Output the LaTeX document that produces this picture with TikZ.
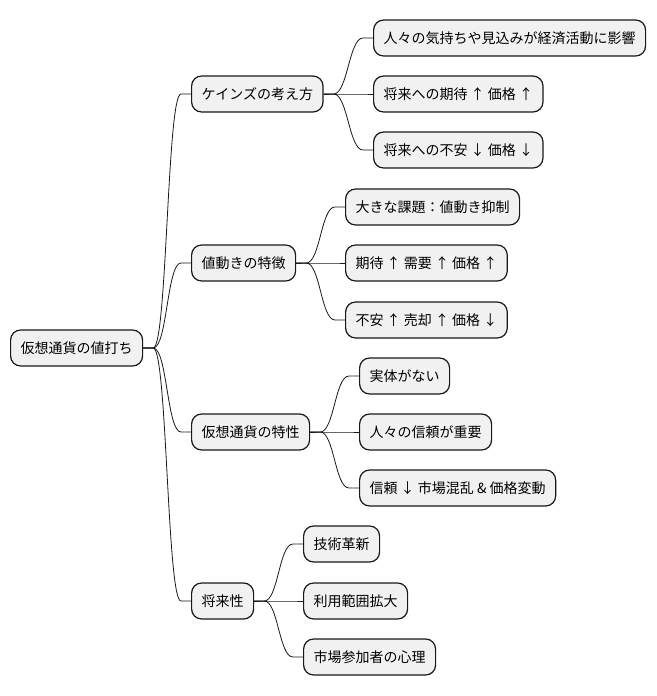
\documentclass[tikz,border=0pt]{standalone}
\usepackage{fontspec}
\setmainfont{Noto Sans CJK JP}
\usepackage{xcolor}
\usepackage{tikz}
\usetikzlibrary{calc}
\definecolor{boxfill}{HTML}{F1F1F1}
\definecolor{boxline}{HTML}{181818}

\begin{document}
\begin{tikzpicture}[x=1pt, y=-1pt,
  topic/.style={draw=boxline, fill=boxfill, line width=1.2pt, rounded corners=10pt,
                anchor=west, minimum height=36pt, inner xsep=10pt, inner ysep=0pt,
                font=\fontsize{14}{16}\selectfont},
  branch/.style={draw=boxline, line width=0.8pt,
                 to path={-- ++(10pt,0) .. controls +(14pt,0) and +(-14pt,0)
                          .. ($(\tikztotarget)+(-10pt,0)$) -- (\tikztotarget)}}]
\useasboundingbox (0,0) rectangle (656,696);
\node[topic] (root)   at (10,348)  {仮想通貨の値打ち};
\node[topic] (keynes) at (191,94)  {ケインズの考え方};
\node[topic] (price)  at (191,263) {値動きの特徴};
\node[topic] (nature) at (191,432) {仮想通貨の特性};
\node[topic] (future) at (191,601) {将来性};
\node[topic] (k1) at (373,38)  {人々の気持ちや見込みが経済活動に影響};
\node[topic] (k2) at (373,94)  {将来への期待 ↑ 価格 ↑};
\node[topic] (k3) at (373,150) {将来への不安 ↓ 価格 ↓};
\node[topic] (p1) at (345,207) {大きな課題：値動き抑制};
\node[topic] (p2) at (345,263) {期待 ↑ 需要 ↑ 価格 ↑};
\node[topic] (p3) at (345,320) {不安 ↑ 売却 ↑ 価格 ↓};
\node[topic] (n1) at (359,376) {実体がない};
\node[topic] (n2) at (359,432) {人々の信頼が重要};
\node[topic] (n3) at (359,488) {信頼 ↓ 市場混乱 \& 価格変動};
\node[topic] (f1) at (303,544) {技術革新};
\node[topic] (f2) at (303,601) {利用範囲拡大};
\node[topic] (f3) at (303,657) {市場参加者の心理};
\foreach \p/\c in {root/keynes,root/price,root/nature,root/future,
                   keynes/k1,keynes/k2,keynes/k3,price/p1,price/p2,price/p3,
                   nature/n1,nature/n2,nature/n3,future/f1,future/f2,future/f3}
  \draw[branch] (\p.east) to (\c.west);
\end{tikzpicture}
\end{document}
